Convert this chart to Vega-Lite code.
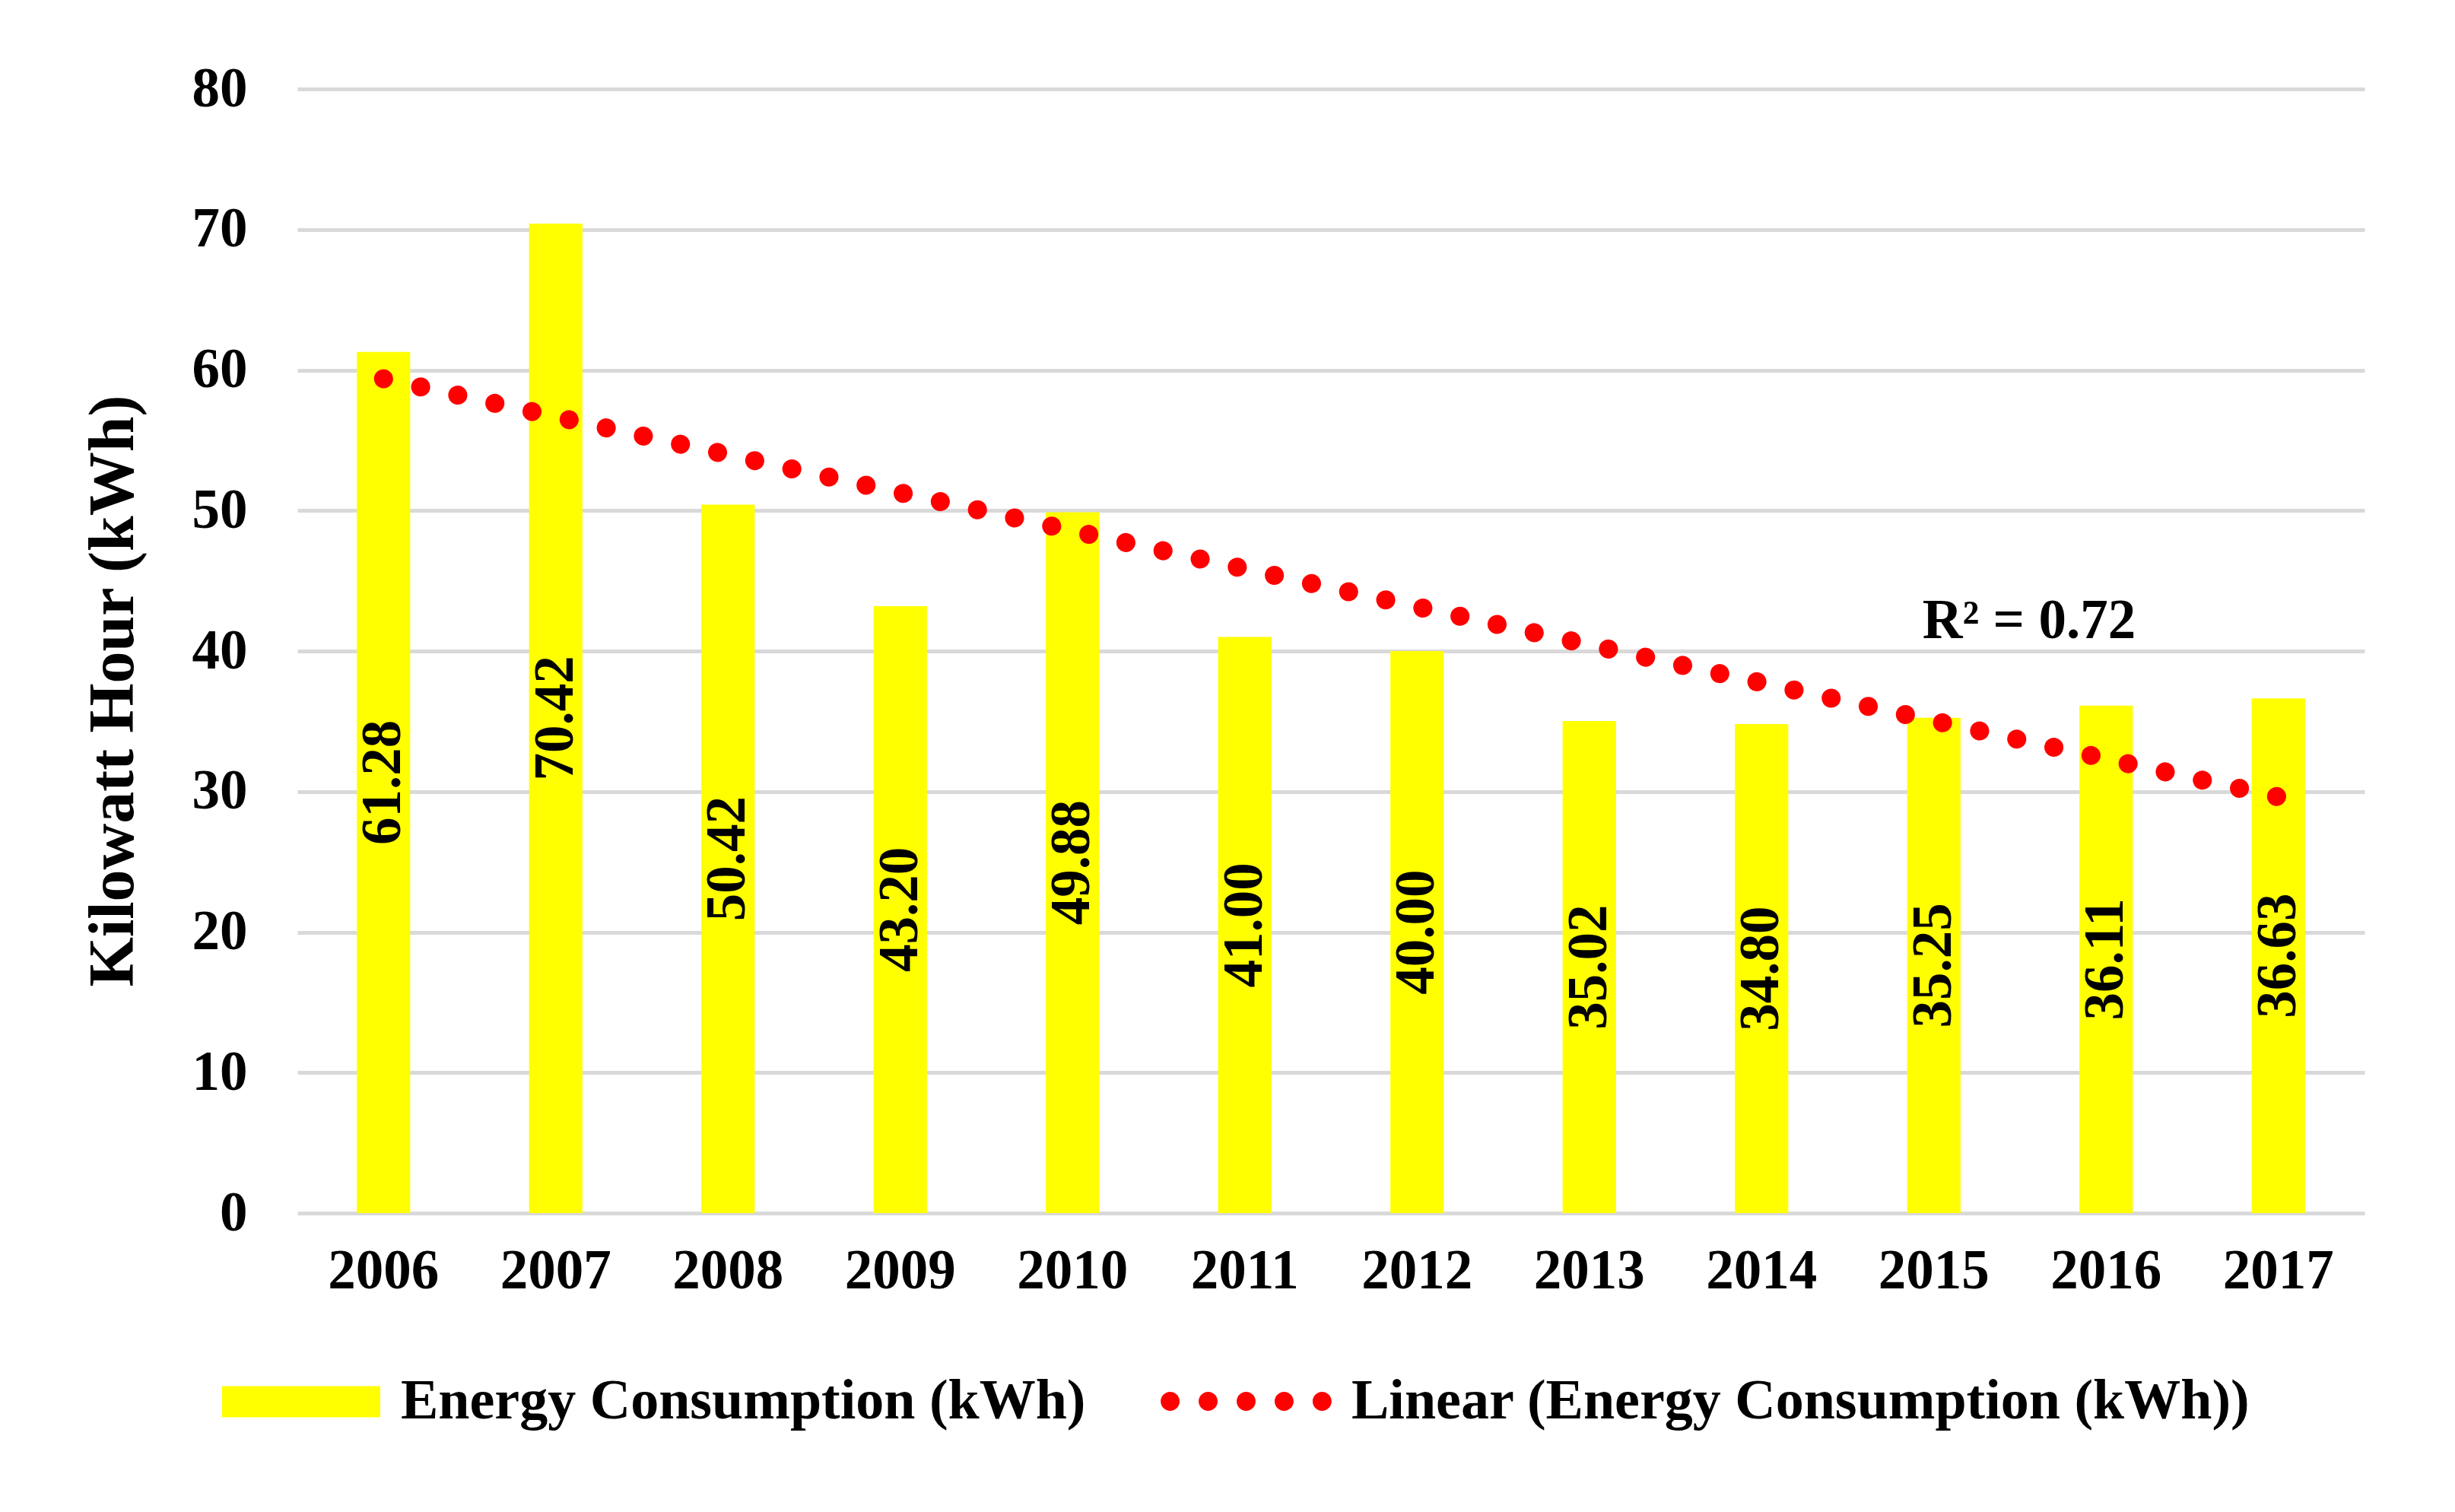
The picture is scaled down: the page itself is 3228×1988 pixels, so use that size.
{
  "$schema": "https://vega.github.io/schema/vega-lite/v6.json",
  "width": 2718,
  "height": 1478,
  "autosize": {"type": "none"},
  "padding": {"left": 391, "top": 117, "right": 119, "bottom": 393},
  "background": "white",
  "config": {
    "view": {"stroke": null},
    "font": "Liberation Serif",
    "axisY": {
      "titleFont": "Liberation Serif",
      "titleFontSize": 84,
      "titleFontWeight": "bold",
      "titleColor": "black",
      "titlePadding": 60,
      "titleY": 791,
      "labelFont": "Liberation Serif",
      "labelFontSize": 73,
      "labelFontWeight": "bold",
      "labelColor": "black",
      "labelPadding": 66,
      "ticks": false,
      "domain": false,
      "grid": true,
      "gridColor": "#d9d9d9",
      "gridWidth": 5
    }
  },
  "data": {
    "values": [
      {"year": "2006", "value": 61.28, "trend": 59.38},
      {"year": "2007", "value": 70.42, "trend": 56.67},
      {"year": "2008", "value": 50.42, "trend": 53.97},
      {"year": "2009", "value": 43.20, "trend": 51.26},
      {"year": "2010", "value": 49.88, "trend": 48.56},
      {"year": "2011", "value": 41.00, "trend": 45.85},
      {"year": "2012", "value": 40.00, "trend": 43.15},
      {"year": "2013", "value": 35.02, "trend": 40.44},
      {"year": "2014", "value": 34.80, "trend": 37.74},
      {"year": "2015", "value": 35.25, "trend": 35.03},
      {"year": "2016", "value": 36.11, "trend": 32.33},
      {"year": "2017", "value": 36.63, "trend": 29.62}
    ]
  },
  "encoding": {
    "x": {
      "field": "year",
      "type": "nominal",
      "sort": null,
      "scale": {"paddingInner": 0.69, "paddingOuter": 0.345},
      "axis": {
        "title": null,
        "labelAngle": 0,
        "labelFont": "Liberation Serif",
        "labelFontSize": 73,
        "labelFontWeight": "bold",
        "labelColor": "black",
        "labelPadding": 40,
        "ticks": false,
        "domain": false,
        "grid": false
      }
    }
  },
  "layer": [
    {
      "mark": {"type": "bar", "color": "#FFFF00"},
      "encoding": {
        "y": {
          "field": "value",
          "type": "quantitative",
          "scale": {"domain": [0, 80], "nice": false},
          "axis": {"title": "Kilowatt Hour (kWh)", "values": [0, 10, 20, 30, 40, 50, 60, 70, 80]}
        },
        "fill": {
          "datum": "Energy Consumption (kWh)",
          "scale": {"range": ["#FFFF00"]},
          "legend": {
            "orient": "none",
            "legendX": -99,
            "legendY": 1622,
            "title": null,
            "padding": 0,
            "symbolType": "M-1,-0.197H1V0.197H-1Z",
            "symbolSize": 43264,
            "symbolStrokeWidth": 0,
            "labelFont": "Liberation Serif",
            "labelFontSize": 74,
            "labelFontWeight": "bold",
            "labelColor": "black",
            "labelOffset": 27,
            "labelLimit": 0
          }
        }
      }
    },
    {
      "mark": {
        "type": "text",
        "angle": 270,
        "font": "Liberation Serif",
        "fontSize": 73,
        "fontWeight": "bold",
        "color": "black",
        "align": "center",
        "baseline": "middle"
      },
      "encoding": {
        "y": {
          "field": "value",
          "type": "quantitative",
          "stack": "zero",
          "bandPosition": 0.5,
          "axis": {"title": "Kilowatt Hour (kWh)", "values": [0, 10, 20, 30, 40, 50, 60, 70, 80]}
        },
        "text": {"field": "value", "type": "quantitative", "format": ".2f"}
      }
    },
    {
      "mark": {
        "type": "line",
        "strokeWidth": 25,
        "strokeCap": "round",
        "strokeDash": [0.1, 49.88]
      },
      "encoding": {
        "y": {
          "field": "trend",
          "type": "quantitative",
          "axis": {"title": "Kilowatt Hour (kWh)", "values": [0, 10, 20, 30, 40, 50, 60, 70, 80]}
        },
        "stroke": {
          "datum": "Linear (Energy Consumption (kWh))",
          "scale": {"range": ["#FF0000"]},
          "legend": {
            "orient": "none",
            "legendX": 1134,
            "legendY": 1612,
            "title": null,
            "padding": 0,
            "symbolType": "M-0.99,0A0.11,0.11 0 1,0 -0.77,0A0.11,0.11 0 1,0 -0.99,0ZM-0.55,0A0.11,0.11 0 1,0 -0.33,0A0.11,0.11 0 1,0 -0.55,0ZM-0.11,0A0.11,0.11 0 1,0 0.11,0A0.11,0.11 0 1,0 -0.11,0ZM0.33,0A0.11,0.11 0 1,0 0.55,0A0.11,0.11 0 1,0 0.33,0ZM0.77,0A0.11,0.11 0 1,0 0.99,0A0.11,0.11 0 1,0 0.77,0Z",
            "symbolSize": 51529,
            "symbolStrokeWidth": 0,
            "symbolFillColor": "#FF0000",
            "labelFont": "Liberation Serif",
            "labelFontSize": 74,
            "labelFontWeight": "bold",
            "labelColor": "black",
            "labelOffset": 25,
            "labelLimit": 0,
            "encode": {
              "symbols": {
                "update": {
                  "fill": {"value": "#FF0000"},
                  "strokeWidth": {"value": 0}
                }
              }
            }
          }
        }
      }
    },
    {
      "data": {"values": [{"year": "2015", "ry": 42.1, "label": "R² = 0.72"}]},
      "mark": {
        "type": "text",
        "align": "left",
        "baseline": "middle",
        "dx": -15,
        "font": "Liberation Serif",
        "fontSize": 73,
        "fontWeight": "bold",
        "color": "black"
      },
      "encoding": {
        "y": {
          "field": "ry",
          "type": "quantitative",
          "axis": {"title": "Kilowatt Hour (kWh)", "values": [0, 10, 20, 30, 40, 50, 60, 70, 80]}
        },
        "text": {"field": "label"}
      }
    }
  ]
}
